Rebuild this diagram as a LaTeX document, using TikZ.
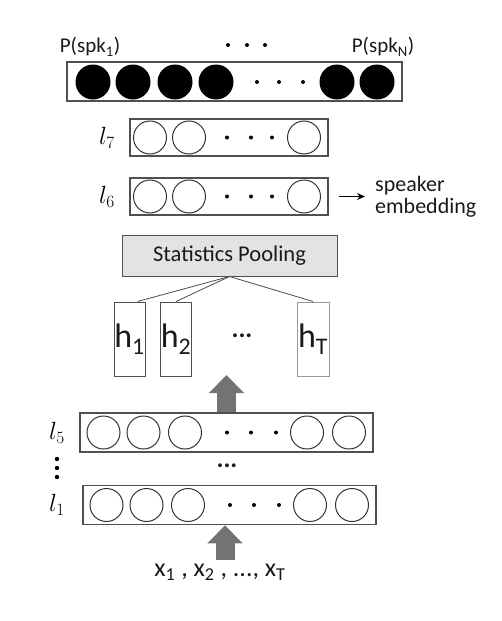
\documentclass[tikz,border=0pt]{standalone}
\usepackage{fontspec}
\setmainfont{Carlito}
\usetikzlibrary{arrows.meta,calc}
\definecolor{boxgray}{HTML}{E3E3E3}
\definecolor{arrowgray}{HTML}{737373}
\definecolor{linegray}{HTML}{505050}
\definecolor{textgray}{HTML}{1A1A1A}

\tikzset{
  layer/.style={draw=linegray, line width=1.5pt, minimum height=39pt, inner sep=0pt},
  unit/.style={circle, draw=black!80, line width=1pt, minimum size=33pt, inner sep=0pt},
  outunit/.style={circle, fill=black, minimum size=35pt, inner sep=0pt},
  hbox/.style={draw=linegray, line width=1pt, minimum width=31pt, minimum height=74pt,
    inner sep=0pt, text=textgray, font=\fontsize{34}{34}\selectfont},
  lbl/.style={inner sep=0pt, text=textgray, font=\fontsize{21}{23}\selectfont},
  laylbl/.style={inner sep=0pt, font=\fontsize{24}{24}\selectfont},
  bigarrow/.style={arrowgray, line width=19pt, -{Triangle[width=34pt,length=18pt]}},
  poolline/.style={draw=black!70, line width=0.8pt},
}

\begin{document}
\begin{tikzpicture}[x=1pt,y=-1pt]
\useasboundingbox (0,0) rectangle (501,621);

% output layer
\node[layer, minimum width=335pt] (out) at (234.5,81.5) {};
\foreach \x [count=\i] in {93,133,175,216,337,377}
  \node[outunit] (o\i) at (\x,82) {};
\foreach \x in {257,279,303}
  \fill (\x,82) circle (2pt);
\node[lbl] (p1) at (90,47) {P(spk\textsubscript{1})};
\node[lbl] (pN) at (383,47) {P(spk\textsubscript{N})};
\foreach \x in {228,247,265}
  \fill (\x,45) circle (2pt);

% l7 and l6
\foreach \n/\y in {7/137.5,6/196.5}
{
  \node[layer, minimum height=37pt, minimum width=198pt] (l\n) at (229,\y) {};
  \foreach \x [count=\i] in {150,189,304}
    \node[unit] (u\n-\i) at (\x,\y) {};
  \foreach \x in {227,251,272}
    \fill (\x,\y) circle (2pt);
  \node[laylbl] (lab\n) at (107,\y) {$l_\n$};
}
\node[lbl, align=left, anchor=west, font=\fontsize{22}{22}\selectfont] (emb) at (375,196.5) {speaker\\embedding};
\draw[-{Stealth[length=8pt,width=7pt]}, line width=1pt, shorten <=10pt, shorten >=10pt]
  (l6.east) -- (emb.west);

% statistics pooling
\node[draw=linegray, line width=1pt, fill=boxgray, minimum width=215pt, minimum height=41pt,
  inner sep=0pt, text=textgray, font=\fontsize{22.5}{24}\selectfont] (pool) at (229.5,255.5) {Statistics Pooling};
\node[hbox] (h1) at (129.5,339) {h\textsubscript{1}};
\node[hbox, minimum width=30pt] (h2) at (176,339) {h\textsubscript{2}};
\node[hbox, minimum width=32pt, draw=black!40] (hT) at (313,339) {h\textsubscript{T}};
\node[lbl, font=\fontsize{26}{26}\selectfont\bfseries] (hdots) at (242,336) {...};
\draw[poolline] (pool.south) -- ($(h1.north)!0.5!(h1.north east)$);
\draw[poolline] (pool.south) -- (h2.north);
\draw[poolline] (pool.south) -- (hT.north);

% frame-level layers
\foreach \n/\y/\xa in {5/432.5/0,1/505/3}
{
  \node[layer, minimum width=293pt, minimum height=39pt] (l\n) at (226.5+\xa,\y) {};
  \foreach \x [count=\i] in {103.5,143.5,185,307,349}
    \node[unit] (u\n-\i) at (\x+\xa,\y) {};
  \foreach \x in {227,251,276}
    \fill (\x+\xa,\y) circle (2pt);
  \node[laylbl] (lab\n) at (57,\y) {$l_\n$};
}
\foreach \y in {459,468,477}
  \fill (57,\y) circle (2.2pt);
\node[lbl, font=\fontsize{26}{26}\selectfont\bfseries] (ldots) at (227,466) {...};

% input and arrows
\node[lbl, font=\fontsize{26}{26}\selectfont] (xin) at (220,572)
  {x\textsubscript{1} , x\textsubscript{2} , ..., x\textsubscript{T}};
\coordinate (in) at (225,560);
\draw[bigarrow] (in) -- (in |- l1.south);
\coordinate (up) at (226.5,375);
\draw[bigarrow] (up |- l5.north) -- (up);

\end{tikzpicture}
\end{document}
